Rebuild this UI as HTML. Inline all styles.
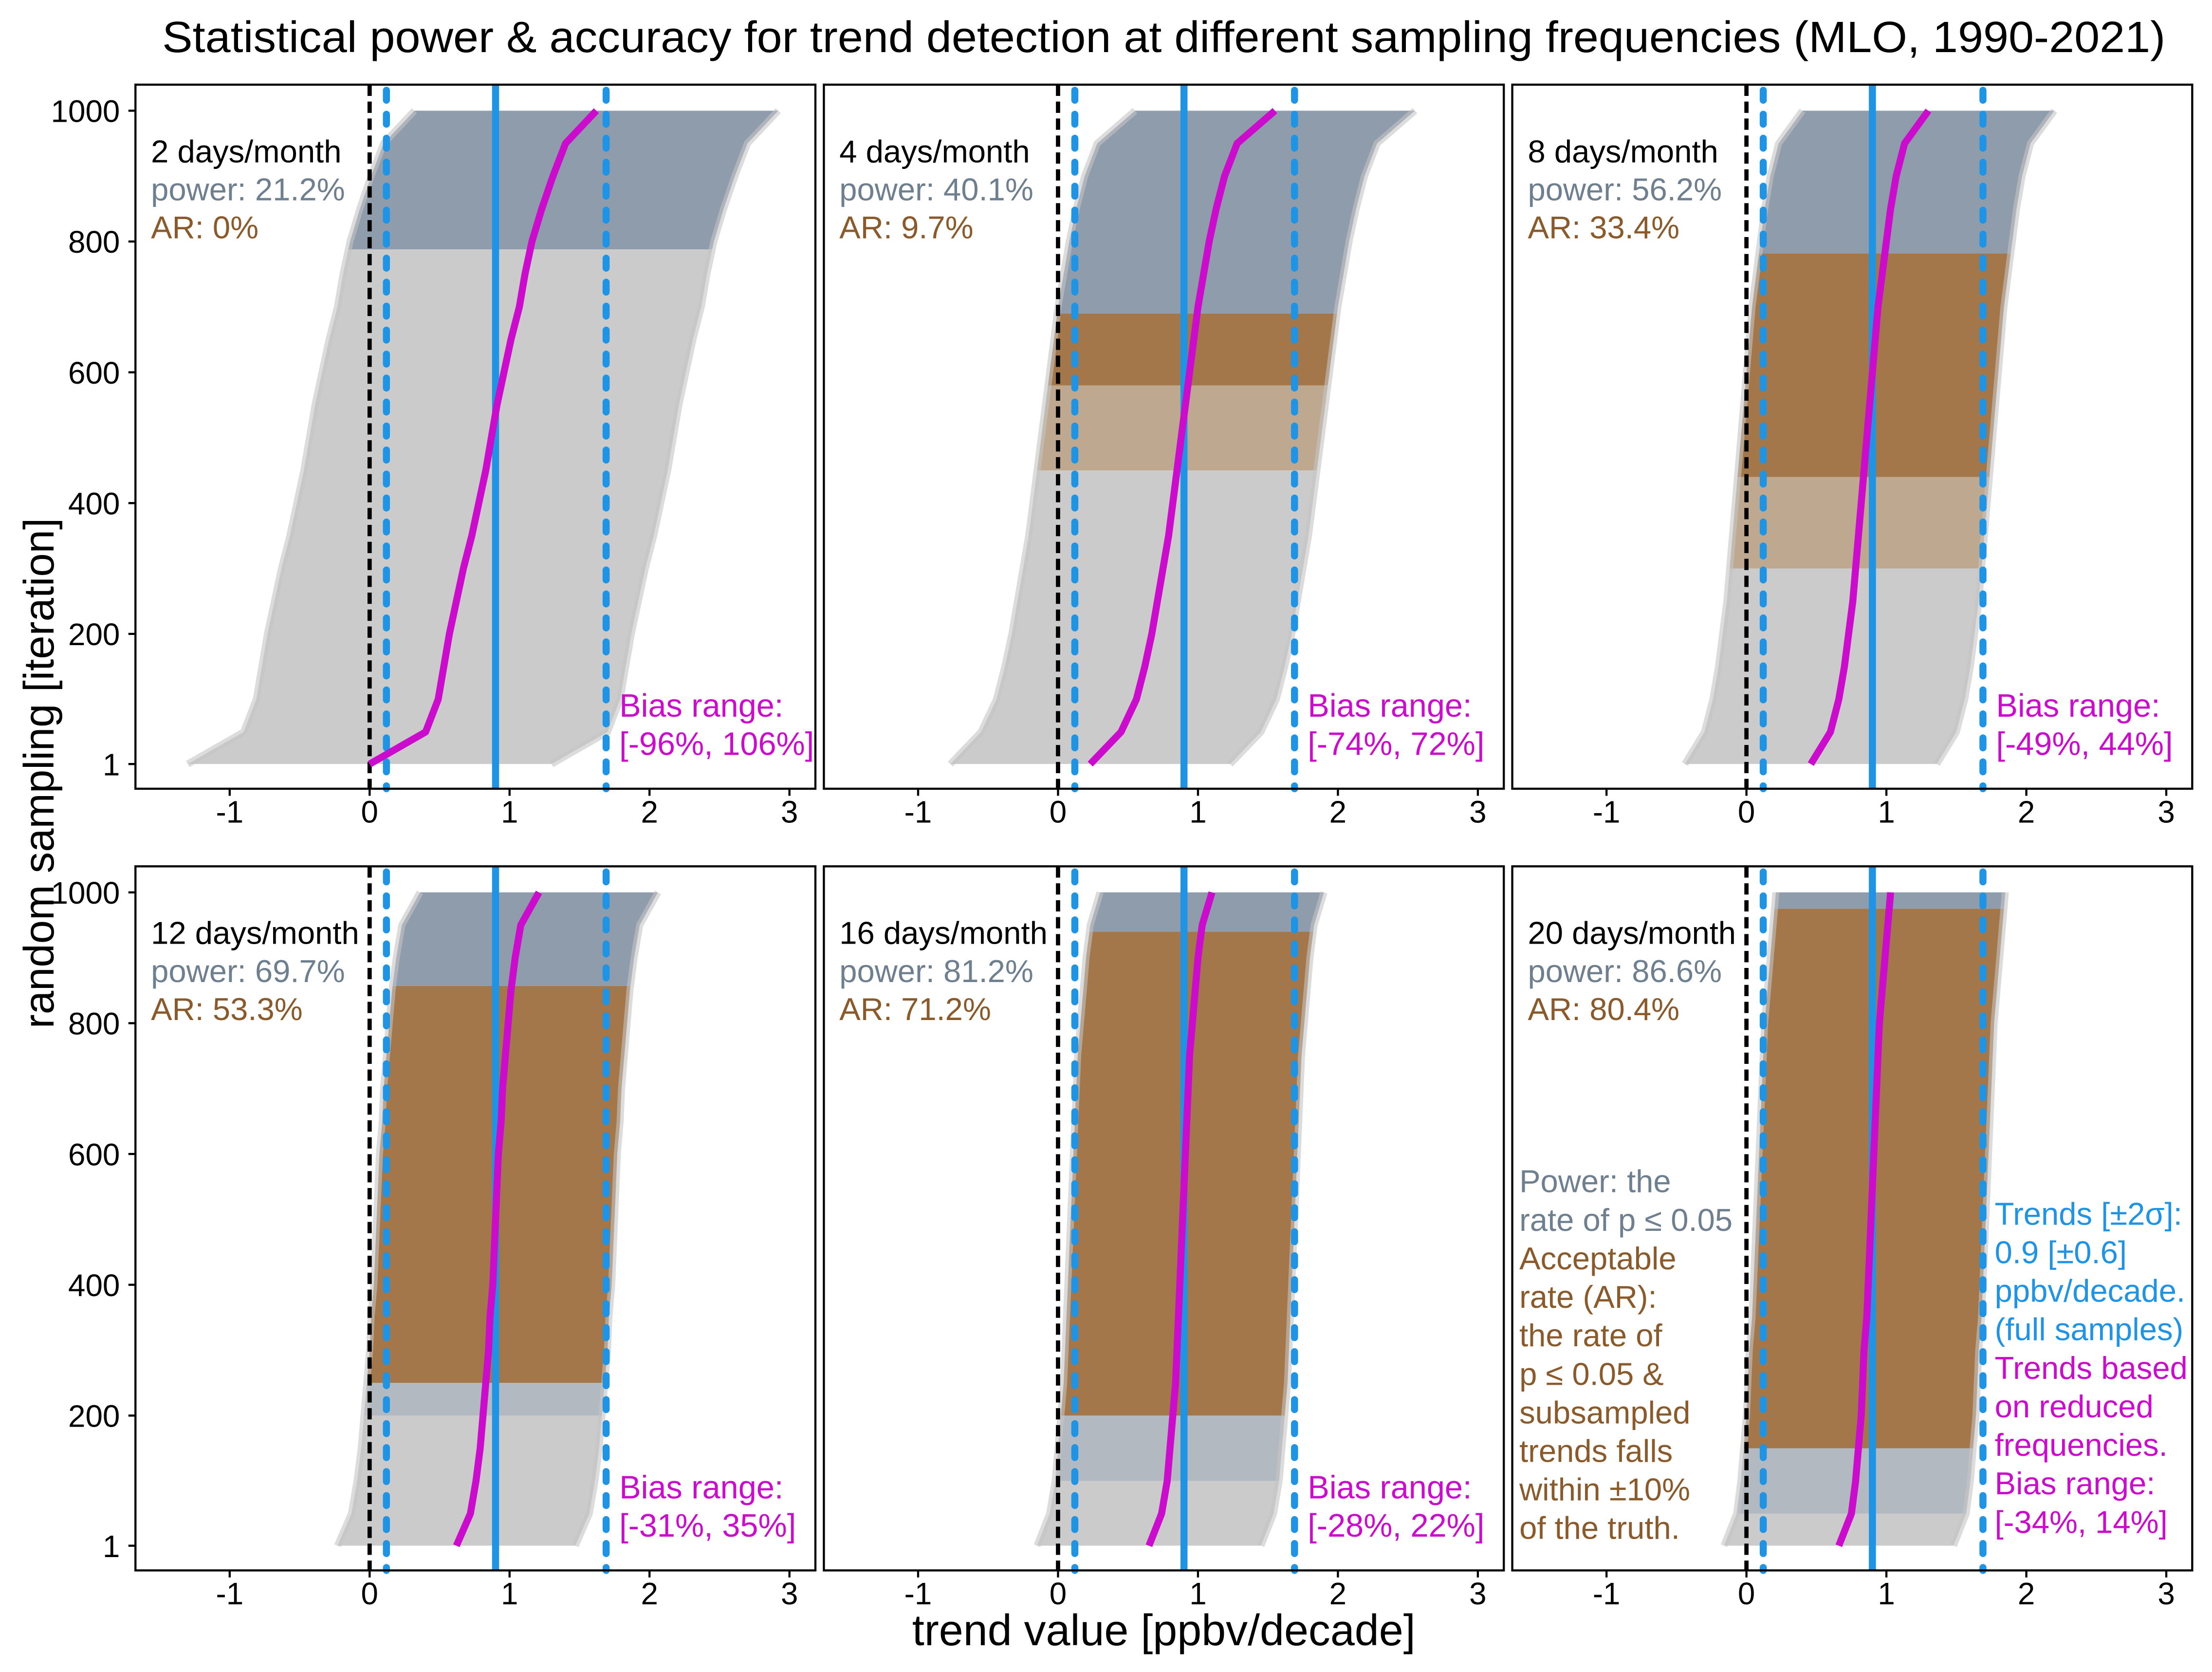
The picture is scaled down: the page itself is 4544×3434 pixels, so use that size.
<!DOCTYPE html>
<html><head><meta charset="utf-8"><style>
html,body{margin:0;padding:0;background:#fff}
svg{display:block}
text{font-family:"Liberation Sans",Arial,sans-serif}
</style></head><body>
<svg id="chart" xmlns="http://www.w3.org/2000/svg" width="4544" height="3434" viewBox="0 0 1568 1185">
<rect width="1568" height="1185" fill="#fff"/>
<text x="825" y="37" font-size="31" text-anchor="middle" fill="#000" textLength="1420" lengthAdjust="spacingAndGlyphs">Statistical power &amp; accuracy for trend detection at different sampling frequencies (MLO, 1990-2021)</text>
<text x="825" y="1166" font-size="31" text-anchor="middle" fill="#000">trend value [ppbv/decade]</text>
<text transform="translate(38,548) rotate(-90)" font-size="30" text-anchor="middle" fill="#000">random sampling [iteration]</text>
<g id="panels"></g>
</svg>
<script>
// ----- data -----
const iterations = [1,50,100,150,200,250,300,350,400,450,500,550,600,650,700,750,800,850,900,950,1000];
const panelLabels = ["2 days/month","4 days/month","8 days/month","12 days/month","16 days/month","20 days/month"];
const powerLabels = ["power: 21.2%","power: 40.1%","power: 56.2%","power: 69.7%","power: 81.2%","power: 86.6%"];
const arLabels = ["AR: 0%","AR: 9.7%","AR: 33.4%","AR: 53.3%","AR: 71.2%","AR: 80.4%"];
const biasLabels = ["[-96%, 106%]","[-74%, 72%]","[-49%, 44%]","[-31%, 35%]","[-28%, 22%]",""];
const trends2 = [0.0,0.40,0.49,0.53,0.57,0.62,0.67,0.73,0.78,0.83,0.87,0.91,0.96,1.01,1.07,1.11,1.16,1.23,1.31,1.40,1.62];
const trends4 = [0.23,0.45,0.56,0.62,0.67,0.71,0.75,0.79,0.82,0.85,0.88,0.91,0.94,0.97,1.0,1.04,1.08,1.13,1.19,1.28,1.55];
const trends8 = [0.46,0.60,0.66,0.70,0.73,0.76,0.78,0.80,0.82,0.84,0.86,0.88,0.90,0.92,0.94,0.97,1.0,1.03,1.07,1.13,1.30];
const trends12 = [0.62,0.72,0.76,0.79,0.81,0.83,0.85,0.86,0.88,0.89,0.90,0.91,0.92,0.94,0.95,0.97,0.99,1.01,1.04,1.08,1.21];
const trends16 = [0.65,0.74,0.78,0.80,0.82,0.84,0.85,0.86,0.87,0.88,0.89,0.90,0.91,0.92,0.93,0.94,0.96,0.98,1.0,1.03,1.10];
const trends20 = [0.66,0.75,0.78,0.80,0.82,0.83,0.84,0.86,0.87,0.88,0.89,0.90,0.91,0.92,0.93,0.94,0.95,0.97,0.99,1.01,1.03];
const halfWidths = [1.3,1.0,0.9,0.85,0.80,0.82];
// category boundaries: [start iteration, category]
const cats2 = [[0,"gray"],[788,"slate"]];
const cats4 = [[0,"gray"],[450,"mixB"],[580,"brown"],[690,"slate"]];
const cats8 = [[0,"gray"],[300,"mixB"],[440,"brown"],[782,"slate"]];
const cats12 = [[0,"gray"],[200,"mixS"],[250,"brown"],[857,"slate"]];
const cats16 = [[0,"gray"],[100,"mixS"],[200,"brown"],[940,"slate"]];
const cats20 = [[0,"gray"],[50,"mixS"],[150,"brown"],[975,"slate"]];
const fullTrend = 0.9;
const ciLow = 0.12, ciHigh = 1.69;
const xTicks = [-1,0,1,2,3];
const yTicks = [1,200,400,600,800,1000];

const allTrends=[trends2,trends4,trends8,trends12,trends16,trends20];
const allCats=[cats2,cats4,cats8,cats12,cats16,cats20];
const catColor={gray:"#cbcbcb",slate:"#8f9cab",brown:"#a4774a",mixB:"#bea88f",mixS:"#b3b9c1"};
const NS="http://www.w3.org/2000/svg";
const root=document.getElementById("panels");
function el(tag,attrs,parent){const e=document.createElementNS(NS,tag);for(const k in attrs)e.setAttribute(k,attrs[k]);(parent||root).appendChild(e);return e;}

const colX=[96,584,1072], rowY=[60,614], pw=482, ph=499;
for(let p=0;p<6;p++){
  const col=p%3,row=Math.floor(p/3);
  const L=colX[col],T=rowY[row],R=L+pw,B=T+ph;
  const ox=L+166; // x of value 0
  const xs=v=>ox+v*99.2;
  const ys=i=>T+481.5-(i-1)*0.4635;
  const g=el("g",{});
  
  
  const tr=allTrends[p],hw=halfWidths[p];
  let pts=[];
  for(let k=0;k<iterations.length;k++)pts.push(xs(tr[k]-hw)+","+ys(iterations[k]));
  for(let k=iterations.length-1;k>=0;k--)pts.push(xs(tr[k]+hw)+","+ys(iterations[k]));
  const cats=allCats[p];
  for(let c=0;c<cats.length;c++){
    const i0=Math.max(1,cats[c][0]), i1=c+1<cats.length?cats[c+1][0]:1000;
    const cid="clip"+p+"_"+c;
    const cp=el("clipPath",{id:cid},g);
    el("rect",{x:L,y:ys(i1)-(c+1<cats.length?0:1),width:pw,height:ys(i0)-ys(i1)+(c+1<cats.length?0:1)},cp);
    const band=el("polygon",{points:pts.join(" "),fill:catColor[cats[c][1]],"clip-path":"url(#"+cid+")"},g);
    
    
  }
  const edgeL=el("polyline",{points:pts.slice(0,iterations.length).join(" "),fill:"none",stroke:"#c4c4c4","stroke-width":5,"stroke-opacity":0.6},g);
  
  
  const edgeR=el("polyline",{points:pts.slice(iterations.length).join(" "),fill:"none",stroke:"#c4c4c4","stroke-width":5,"stroke-opacity":0.6},g);
  
  
  const zl=el("line",{x1:xs(0),x2:xs(0),y1:T,y2:B,stroke:"#000","stroke-width":3,"stroke-dasharray":"8 4"},g);
  
  
  for(const v of [ciLow,ciHigh]){
    const dl=el("line",{x1:xs(v),x2:xs(v),y1:T+4,y2:B,stroke:"#1f93e4","stroke-width":5,"stroke-linecap":"round","stroke-dasharray":"7 10"},g);
    
    
  }
  const fl=el("line",{x1:xs(fullTrend),x2:xs(fullTrend),y1:T,y2:B,stroke:"#1f93e4","stroke-width":5},g);
  
  
  const mp=iterations.map((it,k)=>xs(tr[k])+","+ys(it)).join(" ");
  const mc=el("polyline",{points:mp,fill:"none",stroke:"#cc0ccc","stroke-width":5,"stroke-linejoin":"round"},g);
  
  
  const fr=el("rect",{x:L,y:T,width:pw,height:ph,fill:"none",stroke:"#000","stroke-width":1.5},g);
  
  
  for(const t of xTicks){
    el("line",{x1:xs(t),x2:xs(t),y1:B,y2:B+5,stroke:"#000","stroke-width":1.5},g);
    const tx=el("text",{x:xs(t),y:B+24,"font-size":22,"text-anchor":"middle"},g);
    tx.textContent=t;
    
    
  }
  if(col===0){
    for(const t of yTicks){
      el("line",{x1:L-5,x2:L,y1:ys(t),y2:ys(t),stroke:"#000","stroke-width":1.5},g);
      const ty=el("text",{x:L-11,y:ys(t)+8,"font-size":22,"text-anchor":"end"},g);
      ty.textContent=t;
      
      
    }
  }
  const a=el("text",{x:L+11,y:T+55,"font-size":22.5,fill:"#000"},g);a.textContent=panelLabels[p];
  
  
  const b=el("text",{x:L+11,y:T+82,"font-size":22.5,fill:"#6e7f90"},g);b.textContent=powerLabels[p];
  
  
  const c=el("text",{x:L+11,y:T+109,"font-size":22.5,fill:"#8b5a2b"},g);c.textContent=arLabels[p];
  
  
  if(biasLabels[p]){
    const d=el("text",{x:L+343,y:T+448,"font-size":23,fill:"#cc0ccc"},g);d.textContent="Bias range:";
    
    
    const e=el("text",{x:L+343,y:T+475,"font-size":23,fill:"#cc0ccc"},g);e.textContent=biasLabels[p];
    
    
  }
}
const leftNotes=[["Power: the","#6e7f90"],["rate of p ≤ 0.05","#6e7f90"],["Acceptable","#8b5a2b"],["rate (AR):","#8b5a2b"],["the rate of","#8b5a2b"],["p ≤ 0.05 &","#8b5a2b"],["subsampled","#8b5a2b"],["trends falls","#8b5a2b"],["within ±10%","#8b5a2b"],["of the truth.","#8b5a2b"]];
leftNotes.forEach((n,i)=>{const t=el("text",{x:1077,y:845+i*27.3,"font-size":22.5,fill:n[1]});t.textContent=n[0];
  
  });
const rightNotes=[["Trends [±2σ]:","#1f93e4"],["0.9 [±0.6]","#1f93e4"],["ppbv/decade.","#1f93e4"],["(full samples)","#1f93e4"],["Trends based","#cc0ccc"],["on reduced","#cc0ccc"],["frequencies.","#cc0ccc"],["Bias range:","#cc0ccc"],["[-34%, 14%]","#cc0ccc"]];
rightNotes.forEach((n,i)=>{const t=el("text",{x:1414,y:868+i*27.3,"font-size":22.5,fill:n[1]});t.textContent=n[0];
  
  });
</script>
</body></html>
